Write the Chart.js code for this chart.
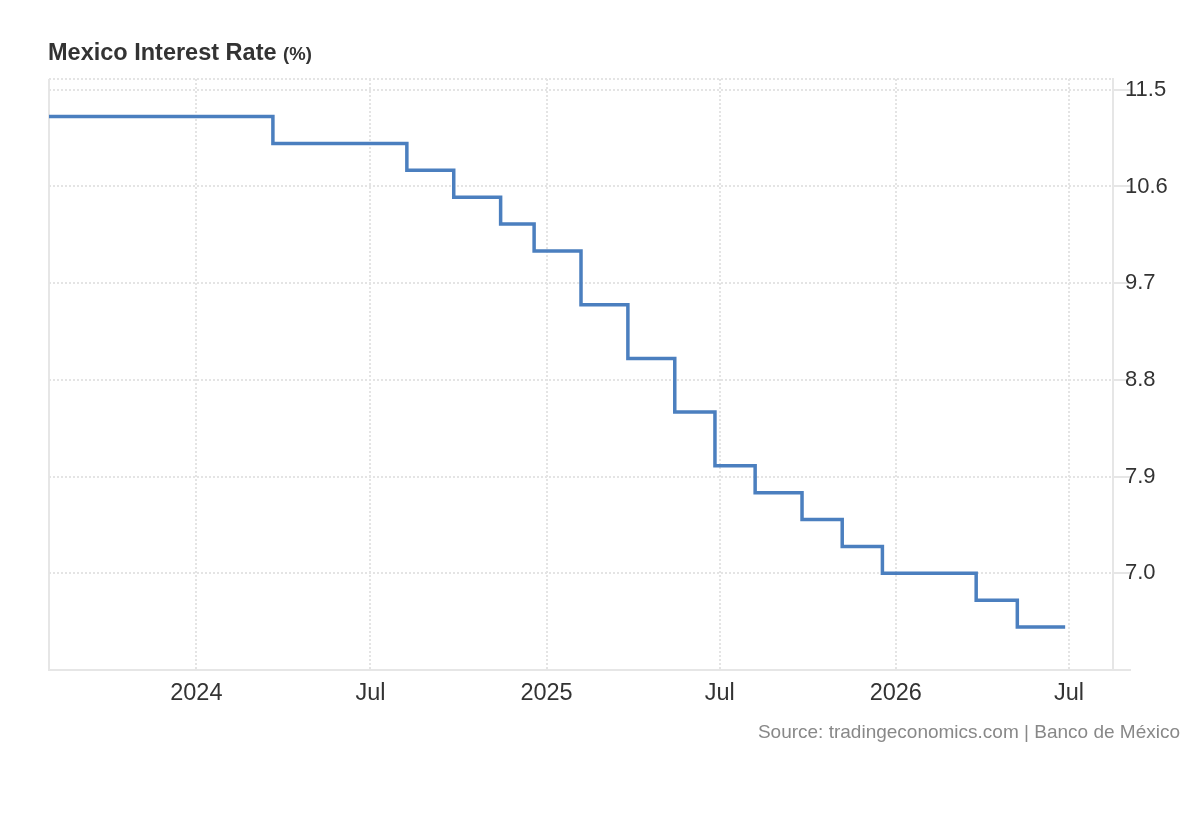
<!DOCTYPE html>
<html>
<head>
<meta charset="utf-8">
<script src="https://cdn.jsdelivr.net/npm/chart.js@4.4.1/dist/chart.umd.min.js"></script>
<style>
    body { margin: 0; background: #fff; font-family: 'Liberation Sans', Arial, sans-serif; }
    #wrap { position: relative; width: 1200px; height: 820px; }
    #title { position: absolute; left: 48px; top: 40px; font-size: 23.5px; line-height: 24px; font-weight: bold; color: #333; white-space: nowrap; }
    #title span { font-size: 18.5px; }
    #source { position: absolute; right: 20px; top: 722px; font-size: 19px; line-height: 19px; color: #888; white-space: nowrap; }
    canvas { position: absolute; left: 0; top: 0; }
</style>
</head>
<body>
<div id="wrap">
    <canvas id="rateChart" width="1200" height="820"></canvas>
    <div id="title">Mexico Interest Rate <span>(%)</span></div>
    <div id="source">Source: tradingeconomics.com | Banco de México</div>
</div>
<script>
// Rate decision dates and the rate in force from each date
const changeDates = [
    '2023-07-31', '2024-03-21', '2024-08-08', '2024-09-26', '2024-11-14',
    '2024-12-19', '2025-02-06', '2025-03-27', '2025-05-15', '2025-06-26',
    '2025-08-07', '2025-09-25', '2025-11-06', '2025-12-18', '2026-03-26',
    '2026-05-08', '2026-06-27'
];
const rateValues = [
    11.25, 11.0, 10.75, 10.5, 10.25,
    10.0, 9.5, 9.0, 8.5, 8.0,
    7.75, 7.5, 7.25, 7.0, 6.75,
    6.5, 6.5
];

// x axis
const xRange = ['2023-07-31', '2026-08-16'];
const xTickDates = ['2024-01-01', '2024-07-01', '2025-01-01', '2025-07-01', '2026-01-01', '2026-07-01'];
const xTickLabels = ['2024', 'Jul', '2025', 'Jul', '2026', 'Jul'];

// y axis
const yRange = [6.1, 11.6];
const yTicks = [7.0, 7.9, 8.8, 9.7, 10.6, 11.5];

const ms = d => new Date(d).getTime();
const xMin = ms(xRange[0]);
const xMax = ms(xRange[1]);

document.addEventListener('DOMContentLoaded', function () {
    const ctx = document.getElementById('rateChart').getContext('2d');

    const points = changeDates.map((d, i) => ({ x: ms(d), y: rateValues[i] }));
    const xTickValues = [xMin].concat(xTickDates.map(ms));
    const yTickValues = [yRange[0]].concat(yTicks, [yRange[1]]);

    Chart.defaults.font.family = "'Liberation Sans', Arial, sans-serif";
    Chart.defaults.color = '#333';

    new Chart(ctx, {
        type: 'line',
        data: {
            datasets: [{
                label: 'Interest Rate',
                data: points,
                borderColor: '#4b7fbf',
                borderWidth: 3.5,
                stepped: 'before',
                pointRadius: 0,
                fill: false
            }]
        },
        options: {
            responsive: false,
            animation: false,
            devicePixelRatio: 1,
            layout: { padding: { left: 49, top: 79, right: 0, bottom: 0 } },
            plugins: {
                legend: { display: false },
                tooltip: { enabled: false }
            },
            scales: {
                x: {
                    type: 'linear',
                    min: xMin,
                    max: xMax,
                    afterBuildTicks: s => { s.ticks = xTickValues.map(v => ({ value: v })); },
                    afterFit: s => { s.height = 150; },
                    grid: {
                        drawTicks: false,
                        color: c => c.index === 0 ? '#e6e6e6' : '#e4e4e4',
                        lineWidth: 2
                    },
                    border: {
                        color: '#e6e6e6',
                        width: 2,
                        dash: c => c.index === 0 ? [] : [2, 2]
                    },
                    ticks: {
                        autoSkip: false,
                        maxRotation: 0,
                        padding: 9,
                        font: { size: 23.5 },
                        callback: (v, i) => i === 0 ? '' : xTickLabels[i - 1]
                    }
                },
                y: {
                    position: 'right',
                    min: yRange[0],
                    max: yRange[1],
                    afterBuildTicks: s => { s.ticks = yTickValues.map(v => ({ value: v })); },
                    afterFit: s => { s.width = 87; },
                    grid: {
                        color: '#e4e4e4',
                        lineWidth: 2,
                        tickLength: 18,
                        tickColor: c => c.index === yTickValues.length - 1 ? 'rgba(0,0,0,0)' : '#e6e6e6',
                        tickWidth: 2
                    },
                    border: {
                        color: '#e6e6e6',
                        width: 2,
                        dash: [2, 2]
                    },
                    ticks: {
                        padding: -6,
                        labelOffset: 0,
                        font: { size: 22 },
                        callback: (v, i) => (i === 0 || i === yTickValues.length - 1) ? '' : v.toFixed(1)
                    }
                }
            }
        }
    });
});
</script>
</body>
</html>
